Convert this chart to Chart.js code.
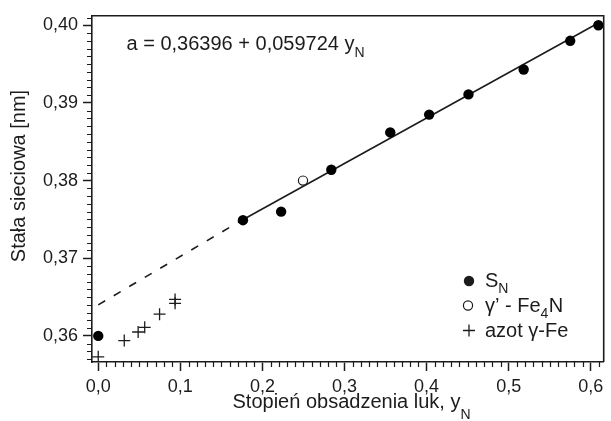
<!DOCTYPE html>
<html>
<head>
<meta charset="utf-8">
<script src="https://cdn.jsdelivr.net/npm/chart.js@4/dist/chart.umd.min.js"></script>
<style>
  html, body { margin: 0; padding: 0; background: #fff; }
  #wrap { width: 611px; height: 421px; }
</style>
</head>
<body>
<div id="wrap"><canvas id="c" width="611" height="421"></canvas></div>
<script>
// ---- data ----
const snX = [0.000, 0.1763, 0.2228, 0.2839, 0.3557, 0.4031, 0.4510, 0.5182, 0.5749, 0.6092];
const snY = [0.3600, 0.3749, 0.3760, 0.3814, 0.3862, 0.3885, 0.3911, 0.3943, 0.3980, 0.4000];
const fe4nX = [0.2494];
const fe4nY = [0.3800];
const azotX = [0.000, 0.0317, 0.0486, 0.0566, 0.0747, 0.0936, 0.0936];
const azotY = [0.3573, 0.3594, 0.3605, 0.3611, 0.3628, 0.3647, 0.3642];
const fitSolidX = [0.170, 0.6092];
const fitSolidY = [0.3746, 0.4003];
const fitDashX = [0.000, 0.170];
const fitDashY = [0.3640, 0.3746];
const xTickLabels = ['0,0', '0,1', '0,2', '0,3', '0,4', '0,5', '0,6'];
const yTickLabels = ['0,36', '0,37', '0,38', '0,39', '0,40'];
const equationText = 'a = 0,36396 + 0,059724 y';
const equationSub = 'N';
const xTitle = 'Stopień obsadzenia luk, y';
const xTitleSub = 'N';
const yTitle = 'Stała sieciowa [nm]';
const legendItems = [
  { parts: [['S', false], ['N', true]], marker: 'filled' },
  { parts: [['γ’ - Fe', false], ['4', true], ['N', false]], marker: 'open' },
  { parts: [['azot γ-Fe', false]], marker: 'cross' }
];

const pts = (xs, ys) => xs.map((x, i) => ({ x: x, y: ys[i] }));
const FONT = '"Liberation Sans", Arial, sans-serif';
const INK = '#1c1c1c';

function drawParts(ctx, parts, x, y, size, subSize, subDrop) {
  let cx = x;
  for (const [t, sub] of parts) {
    ctx.font = (sub ? subSize : size) + 'px ' + FONT;
    ctx.fillText(t, cx, sub ? y + subDrop : y);
    cx += ctx.measureText(t).width + (sub ? 0.5 : 0);
  }
  return cx;
}

const extras = {
  id: 'extras',
  afterDraw(chart) {
    const ctx = chart.ctx;
    const { left, right, top, bottom } = chart.chartArea;
    const xs = chart.scales.x, ys = chart.scales.y;
    ctx.save();
    // frame top & right
    ctx.strokeStyle = INK;
    ctx.lineWidth = 1.6;
    ctx.beginPath();
    ctx.moveTo(left, top);
    ctx.lineTo(right, top);
    ctx.lineTo(right, bottom);
    ctx.stroke();
    // minor ticks
    ctx.lineWidth = 1.2;
    ctx.beginPath();
    for (let i = Math.ceil(xs.min * 100); i <= Math.floor(xs.max * 100); i++) {
      if (i % 10 === 0) continue;
      const px = Math.round(xs.getPixelForValue(i / 100)) + 0.5;
      ctx.moveTo(px, bottom);
      ctx.lineTo(px, bottom + 5);
    }
    for (let i = Math.ceil(ys.min * 1000); i <= Math.floor(ys.max * 1000); i++) {
      if (i % 10 === 0) continue;
      const py = Math.round(ys.getPixelForValue(i / 1000)) + 0.5;
      ctx.moveTo(left - 5, py);
      ctx.lineTo(left, py);
    }
    ctx.stroke();

    ctx.fillStyle = INK;
    ctx.textAlign = 'left';
    ctx.textBaseline = 'alphabetic';
    // equation
    drawParts(ctx, [[equationText, false], [equationSub, true]], 126.5, 49.5, 20, 14, 7);
    // x title
    drawParts(ctx, [[xTitle, false], [xTitleSub, true]], 232.5, 408, 20, 14, 10.5);
    // y title (rotated)
    ctx.save();
    ctx.translate(19, 176);
    ctx.rotate(-Math.PI / 2);
    ctx.textAlign = 'center';
    ctx.textBaseline = 'middle';
    ctx.font = '20px ' + FONT;
    ctx.fillText(yTitle, 0, 0);
    ctx.restore();

    // legend
    const mx = 469, tx = 485;
    const rows = [287, 311.5, 336.5];
    legendItems.forEach((it, i) => {
      const by = rows[i];
      const my = by - 6;
      ctx.strokeStyle = INK;
      ctx.fillStyle = INK;
      if (it.marker === 'filled') {
        ctx.beginPath(); ctx.arc(mx, my, 5.2, 0, Math.PI * 2); ctx.fill();
      } else if (it.marker === 'open') {
        ctx.lineWidth = 1.2;
        ctx.beginPath(); ctx.arc(mx - 1, my, 4.6, 0, Math.PI * 2); ctx.stroke();
      } else {
        ctx.lineWidth = 1.3;
        ctx.beginPath();
        ctx.moveTo(mx - 6, my); ctx.lineTo(mx + 6, my);
        ctx.moveTo(mx, my - 6); ctx.lineTo(mx, my + 6);
        ctx.stroke();
      }
      drawParts(ctx, it.parts, tx, by, 20, 14, 6);
    });
    ctx.restore();
  }
};

new Chart(document.getElementById('c'), {
  type: 'scatter',
  data: {
    datasets: [
      { label: 'S_N', data: pts(snX, snY), pointStyle: 'circle', pointRadius: 5.2,
        backgroundColor: '#000', borderColor: '#000', borderWidth: 0 },
      { label: "γ' - Fe4N", data: pts(fe4nX, fe4nY), pointStyle: 'circle', pointRadius: 4.6,
        backgroundColor: '#fff', borderColor: INK, borderWidth: 1.2 },
      { label: 'azot γ-Fe', data: pts(azotX, azotY), pointStyle: 'cross', pointRadius: 6,
        borderColor: INK, borderWidth: 1.3 },
      { label: 'fit', data: pts(fitSolidX, fitSolidY), showLine: true, pointRadius: 0,
        borderColor: INK, borderWidth: 1.6, fill: false },
      { label: 'fit (extrapolated)', data: pts(fitDashX, fitDashY), showLine: true, pointRadius: 0,
        borderColor: INK, borderWidth: 1.6, borderDash: [8, 10], fill: false }
    ]
  },
  options: {
    responsive: false,
    animation: false,
    devicePixelRatio: 1,
    layout: { padding: { top: 7, right: 2, left: 0, bottom: 0 } },
    plugins: { legend: { display: false }, tooltip: { enabled: false } },
    scales: {
      x: {
        type: 'linear', position: 'bottom', min: -0.0076, max: 0.6157,
        ticks: {
          stepSize: 0.1, includeBounds: false, autoSkip: false, maxRotation: 0,
          padding: 5.5, color: INK, font: { family: FONT, size: 18 },
          callback: (v) => { const k = Math.round(v * 10); return (k >= 0 && k < xTickLabels.length && Math.abs(v * 10 - k) < 1e-6) ? xTickLabels[k] : ''; }
        },
        grid: { drawOnChartArea: false, drawTicks: true, tickLength: 9, tickColor: INK, tickWidth: 1.5 },
        border: { color: INK, width: 1.6 },
        afterFit: (s) => { s.height = 59; }
      },
      y: {
        type: 'linear', position: 'left', min: 0.35664, max: 0.40122,
        ticks: {
          stepSize: 0.01, includeBounds: false, autoSkip: false,
          padding: 5, color: INK, font: { family: FONT, size: 18 },
          callback: (v) => { const k = Math.round((v - 0.36) * 100); return (k >= 0 && k < yTickLabels.length && Math.abs((v - 0.36) * 100 - k) < 1e-6) ? yTickLabels[k] : ''; }
        },
        grid: { drawOnChartArea: false, drawTicks: true, tickLength: 9, tickColor: INK, tickWidth: 1.5 },
        border: { color: INK, width: 1.6 },
        afterFit: (s) => { s.width = 92; }
      }
    }
  },
  plugins: [extras]
});
</script>
</body>
</html>
